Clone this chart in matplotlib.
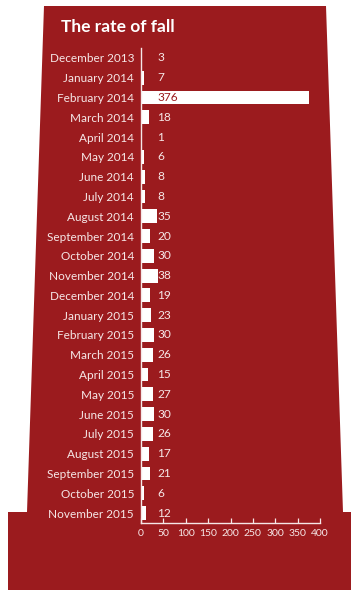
import matplotlib
matplotlib.use("Agg")
import matplotlib.pyplot as plt
from matplotlib.patches import Polygon

plt.rcParams['font.family'] = ['Lato', 'DejaVu Sans']

months = ["December 2013", "January 2014", "February 2014", "March 2014", "April 2014",
          "May 2014", "June 2014", "July 2014", "August 2014", "September 2014",
          "October 2014", "November 2014", "December 2014", "January 2015", "February 2015",
          "March 2015", "April 2015", "May 2015", "June 2015", "July 2015",
          "August 2015", "September 2015", "October 2015", "November 2015"]
counts = [3, 7, 376, 18, 1, 6, 8, 8, 35, 20, 30, 38, 19, 23, 30, 26, 15, 27, 30, 26,
          17, 21, 6, 12]
x_ticks = [0, 50, 100, 150, 200, 250, 300, 350, 400]

RED = "#9B1B1E"
TEXT = "#F6E7E7"
W, H = 351, 590

fig = plt.figure(figsize=(W / 100, H / 100), dpi=100)
fig.patch.set_facecolor("white")

def px(x, y):
    return (x / W, 1 - y / H)

# tapering tower with a wide plinth
tower = [px(44, 6), px(326, 6), px(343, 512), px(351, 512), px(351, 590),
         px(8, 590), px(8, 512), px(27, 512)]
fig.patches.append(Polygon(tower, closed=True, transform=fig.transFigure,
                           facecolor=RED, edgecolor="none", zorder=-5))

fig.text(61 / W, 1 - 27 / H, "The rate of fall", color="white", fontsize=12.5,
         fontweight="bold", va="center", ha="left", zorder=5)

ax_left, ax_right = 141, 320
ax_top, ax_bottom = 48, 523
ax = fig.add_axes([ax_left / W, 1 - ax_bottom / H, (ax_right - ax_left) / W,
                   (ax_bottom - ax_top) / H])
ax.set_facecolor("none")
ax.set_zorder(2)

y = list(range(len(months)))
ax.barh(y, counts, height=0.7, color="white", left=0)
ax.set_xlim(0, 400)
ax.set_ylim(len(months) - 0.5, -0.5)

label_x = 37
for i, v in enumerate(counts):
    color = RED if v > 100 else TEXT
    ax.text(label_x, i, str(v), color=color, fontsize=8.6, va="center", ha="left")

ax.set_yticks(y)
ax.set_yticklabels(months)
ax.set_xticks(x_ticks)
ax.set_xticklabels([str(t) for t in x_ticks])
ax.tick_params(axis="y", length=0, pad=5, labelsize=8.5, labelcolor=TEXT)
ax.tick_params(axis="x", direction="in", length=3.5, width=0.9, color=TEXT,
               pad=4, labelsize=7.5, labelcolor=TEXT)
for s in ["top", "right"]:
    ax.spines[s].set_visible(False)
ax.spines["left"].set_color(TEXT)
ax.spines["left"].set_linewidth(1.0)
ax.spines["bottom"].set_color(TEXT)
ax.spines["bottom"].set_linewidth(1.0)

fig.savefig("out.png", dpi=100, facecolor=fig.get_facecolor())
